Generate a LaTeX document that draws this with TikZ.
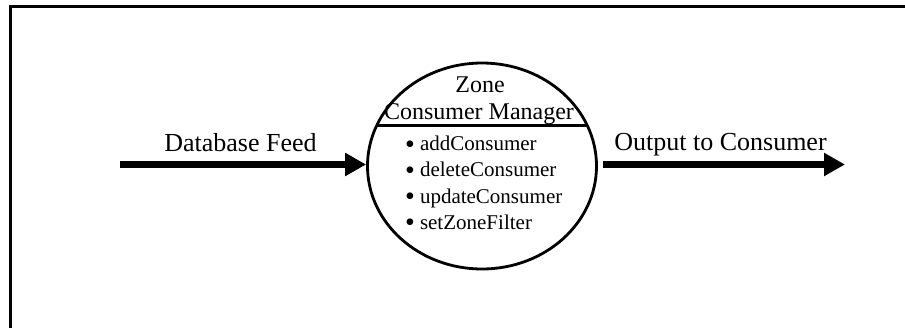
\documentclass[tikz,border=0pt]{standalone}
\usepackage{fontspec}
\setmainfont{Liberation Serif}
\usetikzlibrary{shapes.geometric,arrows.meta}
\newcommand{\mybul}{\raisebox{-2.5pt}{\fontsize{28}{28}\selectfont •}}
\tikzset{
  lbl/.style={inner sep=0pt, anchor=base, font=\fontsize{26}{30}\selectfont},
  ttl/.style={inner sep=0pt, anchor=base, font=\fontsize{24}{28}\selectfont},
  itm/.style={inner sep=0pt, anchor=base west, font=\fontsize{21}{25}\selectfont},
  flow/.style={line width=7.5pt, -{Triangle[length=21pt,width=22pt]}},
  proc/.style={draw, ellipse, line width=2.8pt, minimum width=229pt, minimum height=206pt, inner sep=0pt},
}
\begin{document}
\begin{tikzpicture}[x=1pt,y=-1pt]
\useasboundingbox (0,0) rectangle (905,327);
\clip (0,0) rectangle (905,327);
\draw[line width=2.8pt] (10.3,6.5) rectangle (920,340);
\node[proc] (ell) at (482,166) {};
\draw[line width=2.8pt] (376.5,125.5) -- (587.5,125.5);
\node[ttl] (t1) at (480,92.5) {Zone};
\node[ttl] (t2) at (479,119.5) {Consumer Manager};
\node[itm] (i1) at (405,150.5) {\mybul\hspace{5pt}addConsumer};
\node[itm] (i2) at (405,176.8) {\mybul\hspace{5pt}deleteConsumer};
\node[itm] (i3) at (405,203.1) {\mybul\hspace{5pt}updateConsumer};
\node[itm] (i4) at (405,229.4) {\mybul\hspace{5pt}setZoneFilter};
\coordinate (ls) at (120,164.5);
\coordinate (rs) at (603,164.5);
\coordinate (re) at (845,164.5);
\draw[flow] (ls) -- (ls -| ell.west);
\draw[flow] (rs) -- (re);
\node[lbl] (l1) at (240.5,151) {Database Feed};
\node[lbl] (l2) at (720.5,150.5) {Output to Consumer};
\end{tikzpicture}
\end{document}
